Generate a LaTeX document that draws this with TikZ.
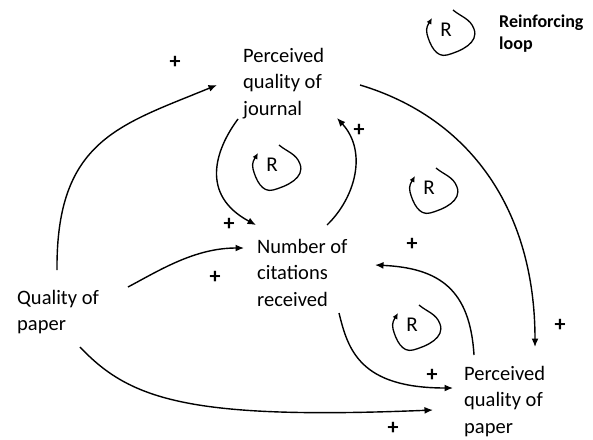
\documentclass[tikz,border=0pt]{standalone}
\usepackage{fontspec}
\setmainfont{Carlito}
\usetikzlibrary{arrows.meta}

\tikzset{
  var/.style={anchor=north west, inner sep=0pt, align=left,
    font=\fontsize{20.5}{26.5}\selectfont},
  link/.style={line width=1.4pt, -{Latex[length=8.5pt,width=7pt]}},
  sign/.style={inner sep=0pt, font=\fontsize{22}{22}\selectfont\bfseries},
  loopR/.style={inner sep=0pt, font=\fontsize{21}{21}\selectfont},
  loopline/.style={line width=1.3pt, -{Latex[length=6pt,width=5.5pt]}}
}

\begin{document}
\begin{tikzpicture}[x=1pt,y=1pt]
\useasboundingbox (0,0) rectangle (593,-439);

% variables
\node[var] (pj) at (243,-48) {Perceived\\quality of\\journal};
\node[var] (nc) at (257,-239) {Number of\\citations\\received};
\node[var] (qp) at (17,-290) {Quality of\\paper};
\node[var] (pp) at (464,-366) {Perceived\\quality of\\paper};
\node[var, font=\fontsize{18}{22}\selectfont\bfseries] (key) at (499,-15) {Reinforcing\\loop};

% links
\draw[link] ([shift={(40,20)}]qp.north west) .. controls (56,-140) and (120,-125) .. ([shift={(-26,-37)}]pj.north west);
\draw[link] ([shift={(-5,-71)}]pj.north west) .. controls (215,-150) and (200,-195) .. ([shift={(-1,14)}]nc.north west);
\draw[link] ([shift={(70,14)}]nc.north west) .. controls (355,-198) and (368,-152) .. ([shift={(94,-70)}]pj.north west);
\draw[link] ([shift={(117,-37)}]pj.north west) .. controls (470,-118) and (535,-210) .. ([shift={(71,19)}]pp.north west);
\draw[link] ([shift={(111,3)}]qp.north west) .. controls (160,-270) and (195,-248) .. ([shift={(-13,-9)}]nc.north west);
\draw[link] ([shift={(82,-74)}]nc.north west) .. controls (348,-350) and (360,-388) .. ([shift={(-11,-22)}]pp.north west);
\draw[link] ([shift={(10,11)}]pp.north west) .. controls (470,-290) and (440,-268) .. ([shift={(118,-26)}]nc.north west);
\draw[link] ([shift={(63,-57)}]qp.north west) .. controls (130,-400) and (190,-420) .. ([shift={(-31,-44)}]pp.north west);

% polarities
\node[sign] (s1) at (175,-62) {+};
\node[sign] (s2) at (359,-130) {+};
\node[sign] (s3) at (229,-224) {+};
\node[sign] (s4) at (215,-277) {+};
\node[sign] (s5) at (412,-244) {+};
\node[sign] (s6) at (560,-325) {+};
\node[sign] (s7) at (432,-375) {+};
\node[sign] (s8) at (393,-428) {+};

% reinforcing loops
\foreach \n/\x/\y in {r1/272/-165, r2/446/-30, r3/429/-188, r4/412/-325}{
  \node[loopR] (\n) at (\x,\y) {R};
  \draw[loopline] ([shift={(7,20)}]\n.center) to[out=-40,in=110] ([shift={(28,1)}]\n.center)
    to[out=-70,in=15] ([shift={(1,-25)}]\n.center) to[out=195,in=-75] ([shift={(-19,-4)}]\n.center)
    to[out=105,in=-120] ([shift={(-14,12)}]\n.center);
}
\end{tikzpicture}
\end{document}
